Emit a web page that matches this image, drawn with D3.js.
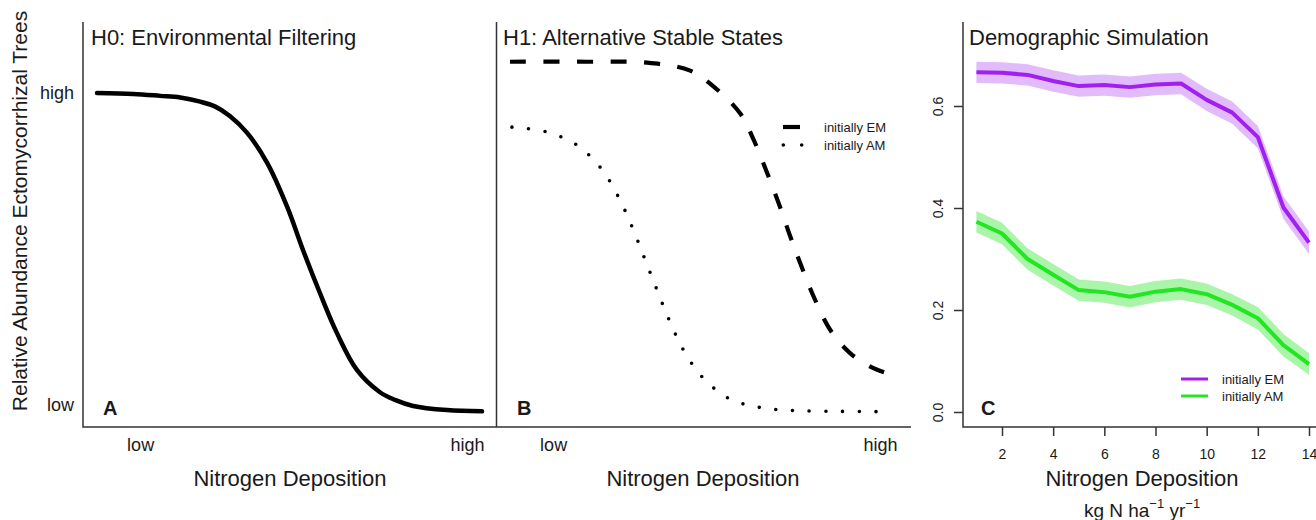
<!DOCTYPE html>
<html>
<head>
<meta charset="utf-8">
<script src="https://cdn.jsdelivr.net/npm/d3@7"></script>
<style>
  html, body { margin: 0; padding: 0; background: #fff; }
  svg { display: block; font-family: Arial, "Liberation Sans", Helvetica, sans-serif; }
</style>
</head>
<body>
<svg id="chart" width="1316" height="520"></svg>
<script>
// ---------------- DATA ----------------
// Panel A: conceptual curve (relative position 0..1 along N deposition, relative abundance 0..1)
const aX = [0, 0.094, 0.164, 0.216, 0.268, 0.306, 0.345, 0.390, 0.442, 0.494, 0.535, 0.579, 0.623, 0.675, 0.735, 0.774, 0.821, 0.909, 1.0];
const aY = [1.0, 0.997, 0.991, 0.986, 0.973, 0.958, 0.928, 0.875, 0.781, 0.643, 0.508, 0.373, 0.248, 0.132, 0.062, 0.038, 0.019, 0.006, 0.002];

// Panel B: initially EM (dashed) and initially AM (dotted)
const bEmX = [0.0, 0.200, 0.356, 0.468, 0.529, 0.598, 0.633, 0.668, 0.701, 0.728, 0.754, 0.789, 0.832, 0.884, 0.936, 0.975];
const bEmY = [1.098, 1.098, 1.095, 1.070, 1.020, 0.936, 0.853, 0.749, 0.644, 0.550, 0.466, 0.361, 0.257, 0.184, 0.142, 0.123];
const bAmX = [0.005, 0.092, 0.171, 0.235, 0.280, 0.317, 0.349, 0.381, 0.414, 0.452, 0.502, 0.571, 0.655, 0.750, 0.860, 0.962];
const bAmY = [0.893, 0.879, 0.839, 0.766, 0.678, 0.581, 0.483, 0.385, 0.287, 0.191, 0.106, 0.041, 0.013, 0.004, 0.002, 0.001];

// Conceptual axis tick labels
const conceptXTicks = [0.112, 0.961];
const conceptXLabels = ["low", "high"];
const conceptYTicks = [0.023, 1.0];
const conceptYLabels = ["low", "high"];

// Panel C: demographic simulation
const nDep = [1, 2, 3, 4, 5, 6, 7, 8, 9, 10, 11, 12, 13, 14];
const emMean = [0.666, 0.665, 0.661, 0.649, 0.639, 0.641, 0.637, 0.642, 0.644, 0.612, 0.587, 0.539, 0.401, 0.332];
const emUpper = [0.687, 0.686, 0.682, 0.670, 0.660, 0.662, 0.658, 0.663, 0.665, 0.634, 0.609, 0.561, 0.423, 0.354];
const emLower = [0.645, 0.644, 0.640, 0.628, 0.618, 0.620, 0.616, 0.621, 0.623, 0.590, 0.565, 0.517, 0.379, 0.310];
const amMean = [0.373, 0.350, 0.300, 0.269, 0.239, 0.235, 0.226, 0.236, 0.241, 0.231, 0.210, 0.184, 0.131, 0.094];
const amUpper = [0.394, 0.371, 0.321, 0.290, 0.260, 0.256, 0.247, 0.257, 0.262, 0.252, 0.231, 0.206, 0.153, 0.115];
const amLower = [0.352, 0.329, 0.279, 0.248, 0.218, 0.214, 0.205, 0.215, 0.220, 0.210, 0.189, 0.162, 0.109, 0.073];
const cXTicks = [2, 4, 6, 8, 10, 12, 14];
const cYTicks = [0.0, 0.2, 0.4, 0.6];
const seriesNames = ["initially EM", "initially AM"];

// ---------------- DRAW ----------------
const svg = d3.select("#chart");
const ink = "#1a1a1a";
const axisCol = "#333";
const purple = "#a020f0";
const green = "#22e622";

// Scales
const xA = d3.scaleLinear().domain([0, 1]).range([97, 482]);
const xB = d3.scaleLinear().domain([0, 1]).range([510, 895]);
const yAB = d3.scaleLinear().domain([0, 1]).range([412, 93]);
const xC = d3.scaleLinear().domain([2, 14]).range([1002, 1309]);
const yC = d3.scaleLinear().domain([0, 0.6]).range([412, 106]);

const axisY = 427, axisTop = 22;

// Frame lines (L-shaped boxes)
const frame = svg.append("g").attr("stroke", axisCol).attr("stroke-width", 1.5).attr("fill", "none");
frame.append("path").attr("d", `M83,${axisTop}V${axisY}H911`);
frame.append("path").attr("d", `M496.5,${axisTop}V${axisY}`);
frame.append("path").attr("d", `M963,${axisTop}V${axisY}H1316`);

function styleAxis(g, size) {
  g.select(".domain").remove();
  g.selectAll("text").attr("fill", ink).style("font-size", size + "px")
    .style("font-family", 'Arial, "Liberation Sans", sans-serif');
  g.selectAll("line").attr("stroke", axisCol).attr("stroke-width", 1.5);
}

// Panel A/B x labels
[xA, xB].forEach(sc => {
  svg.append("g").attr("transform", `translate(0,${axisY})`)
    .call(d3.axisBottom(sc).tickValues(conceptXTicks).tickFormat((d, i) => conceptXLabels[i]).tickSize(0).tickPadding(11))
    .call(g => styleAxis(g, 18));
});
// Panel A y labels
svg.append("g").attr("transform", "translate(83,0)")
  .call(d3.axisLeft(yAB).tickValues(conceptYTicks).tickFormat((d, i) => conceptYLabels[i]).tickSize(0).tickPadding(9))
  .call(g => styleAxis(g, 18));

// Titles
const titleStyle = sel => sel.attr("fill", ink).style("font-size", "22px");
svg.append("text").attr("x", 91).attr("y", 45).text("H0: Environmental Filtering").call(titleStyle);
svg.append("text").attr("x", 503).attr("y", 45).text("H1: Alternative Stable States").call(titleStyle);
svg.append("text").attr("x", 969).attr("y", 45).text("Demographic Simulation").call(titleStyle);

// Panel letters
[["A", 103], ["B", 517], ["C", 981]].forEach(([t, x]) => {
  svg.append("text").attr("x", x).attr("y", 415).text(t)
    .attr("fill", ink).style("font-size", "20px").style("font-weight", "bold");
});

// Axis titles
[290, 703, 1142].forEach(cx => {
  svg.append("text").attr("x", cx).attr("y", 486).attr("text-anchor", "middle")
    .text("Nitrogen Deposition").call(titleStyle);
});
const unit = svg.append("text").attr("x", 1142).attr("y", 517).attr("text-anchor", "middle")
  .attr("fill", ink).style("font-size", "19px");
unit.append("tspan").text("kg N ha");
unit.append("tspan").attr("dy", -9).style("font-size", "13px").text("−1");
unit.append("tspan").attr("dy", 9).text(" yr");
unit.append("tspan").attr("dy", -9).style("font-size", "13px").text("−1");

svg.append("text").attr("transform", "translate(27,211) rotate(-90)").attr("text-anchor", "middle")
  .attr("fill", ink).style("font-size", "21px")
  .text("Relative Abundance Ectomycorrhizal Trees");

// Panel A curve
const lineA = d3.line().x(d => xA(d[0])).y(d => yAB(d[1])).curve(d3.curveCatmullRom.alpha(0.5));
svg.append("path").datum(d3.zip(aX, aY)).attr("d", lineA)
  .attr("fill", "none").attr("stroke", "#000").attr("stroke-width", 4.5).attr("stroke-linecap", "round");

// Panel B curves
const lineB = d3.line().x(d => xB(d[0])).y(d => yAB(d[1])).curve(d3.curveCatmullRom.alpha(0.5));
svg.append("path").datum(d3.zip(bEmX, bEmY)).attr("d", lineB)
  .attr("fill", "none").attr("stroke", "#000").attr("stroke-width", 4.2)
  .attr("stroke-dasharray", "16,17.5").attr("stroke-linecap", "butt");
svg.append("path").datum(d3.zip(bAmX, bAmY)).attr("d", lineB)
  .attr("fill", "none").attr("stroke", "#000").attr("stroke-width", 3.6)
  .attr("stroke-dasharray", "0,16.7").attr("stroke-linecap", "round");

// Panel B legend
const legB = svg.append("g");
legB.append("line").attr("x1", 783).attr("x2", 800).attr("y1", 127).attr("y2", 127)
  .attr("stroke", "#000").attr("stroke-width", 4.2);
legB.append("line").attr("x1", 783.3).attr("x2", 801.7).attr("y1", 145).attr("y2", 145)
  .attr("stroke", "#000").attr("stroke-width", 3.6).attr("stroke-dasharray", "0,18.4").attr("stroke-linecap", "round");
seriesNames.forEach((t, i) => {
  legB.append("text").attr("x", 824).attr("y", 132 + i * 18.3).text(t)
    .attr("fill", ink).style("font-size", "13px");
});

// Panel C axes
svg.append("g").attr("transform", `translate(0,${axisY})`)
  .call(d3.axisBottom(xC).tickValues(cXTicks).tickSize(9).tickPadding(13))
  .call(g => styleAxis(g, 14));
svg.append("g").attr("transform", "translate(963,0)")
  .call(d3.axisLeft(yC).tickValues(cYTicks).tickFormat(d3.format(".1f")).tickSize(9))
  .call(g => styleAxis(g, 14))
  .call(g => g.selectAll("text").attr("transform", "rotate(-90)").attr("x", 0).attr("y", -20)
    .attr("dy", 0).style("text-anchor", "middle"));

// Panel C bands and lines
const area = d3.area().x(d => xC(d[0])).y0(d => yC(d[1])).y1(d => yC(d[2]));
const lineC = d3.line().x(d => xC(d[0])).y(d => yC(d[1]));
const series = [
  { mean: emMean, lo: emLower, hi: emUpper, color: purple, fill: "rgba(160,32,240,0.30)" },
  { mean: amMean, lo: amLower, hi: amUpper, color: green, fill: "rgba(34,230,34,0.38)" }
];
series.forEach(s => {
  svg.append("path").datum(d3.zip(nDep, s.lo, s.hi)).attr("d", area).attr("fill", s.fill).attr("stroke", "none");
});
series.forEach(s => {
  svg.append("path").datum(d3.zip(nDep, s.mean)).attr("d", lineC)
    .attr("fill", "none").attr("stroke", s.color).attr("stroke-width", 4).attr("stroke-linejoin", "round");
});

// Panel C legend
const legC = svg.append("g");
series.forEach((s, i) => {
  legC.append("line").attr("x1", 1181).attr("x2", 1208).attr("y1", 379 + i * 17).attr("y2", 379 + i * 17)
    .attr("stroke", s.color).attr("stroke-width", 3);
  legC.append("text").attr("x", 1222).attr("y", 384 + i * 17).text(seriesNames[i])
    .attr("fill", ink).style("font-size", "13px");
});
</script>
</body>
</html>
